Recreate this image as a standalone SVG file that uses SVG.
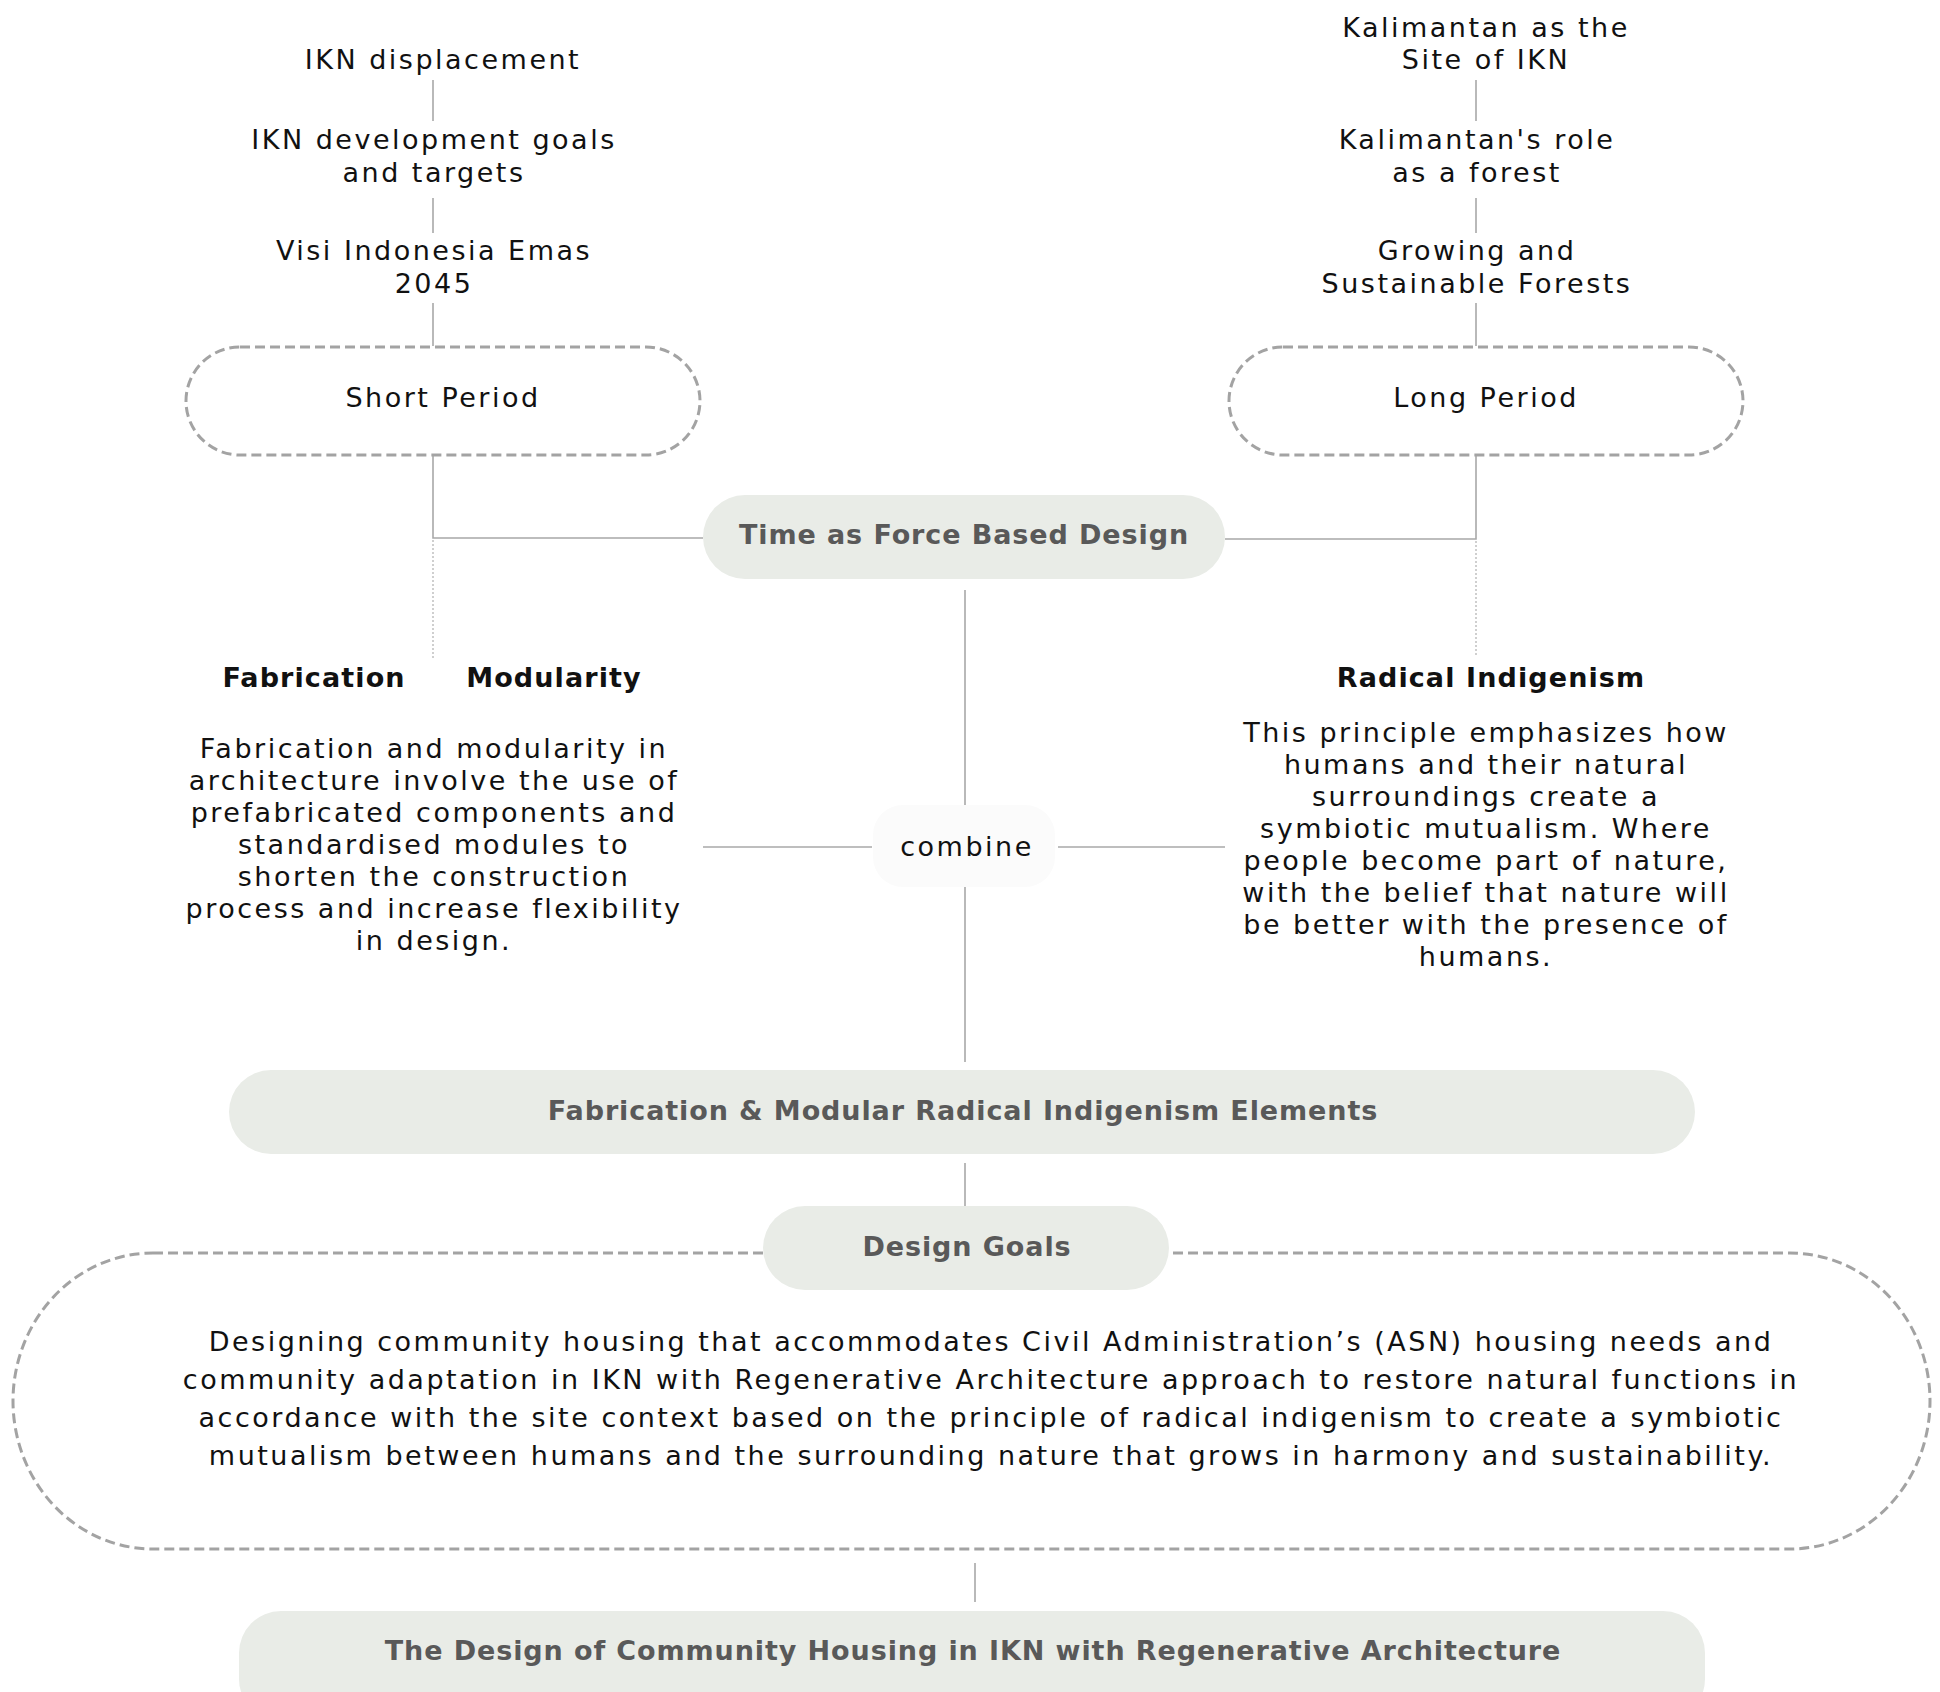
<svg xmlns="http://www.w3.org/2000/svg" width="1940" height="1692" viewBox="0 0 1940 1692">
<style>
.t{font-family:"DejaVu Sans","Open Sans",sans-serif;font-size:27px;letter-spacing:2.5px;fill:#111;text-anchor:middle}
.h{font-family:"DejaVu Sans","Open Sans",sans-serif;font-size:27px;font-weight:700;letter-spacing:1.1px;fill:#111;text-anchor:middle}
.b{font-family:"DejaVu Sans","Open Sans",sans-serif;font-size:27px;font-weight:700;letter-spacing:0.9px;fill:#595959;text-anchor:middle}
.pill{fill:#e9ece7}
.dash{fill:none;stroke:#a3a3a3;stroke-width:3;stroke-dasharray:10 5}
.ln{stroke:#a8a8a8;stroke-width:1.6;fill:none}
.dot{stroke:#bbbbbb;stroke-width:1.4;stroke-dasharray:2 2;fill:none}
</style>
<rect width="1940" height="1692" fill="#ffffff"/>
<g id="connectors">
<line class="ln" x1="433" y1="80" x2="433" y2="121"/>
<line class="ln" x1="433" y1="198" x2="433" y2="233"/>
<line class="ln" x1="433" y1="303" x2="433" y2="346"/>
<line class="ln" x1="1476" y1="80" x2="1476" y2="121"/>
<line class="ln" x1="1476" y1="198" x2="1476" y2="233"/>
<line class="ln" x1="1476" y1="303" x2="1476" y2="346"/>
<polyline class="ln" points="433,455 433,538 703,538"/>
<polyline class="ln" points="1476,455 1476,539 1225,539"/>
<line class="dot" x1="433" y1="540" x2="433" y2="658"/>
<line class="dot" x1="1476" y1="541" x2="1476" y2="656"/>
<line class="ln" x1="965" y1="590" x2="965" y2="810"/>
<line class="ln" x1="965" y1="885" x2="965" y2="1062"/>
<line class="ln" x1="703" y1="847" x2="872" y2="847"/>
<line class="ln" x1="1058" y1="847" x2="1225" y2="847"/>
<line class="ln" x1="965" y1="1163" x2="965" y2="1206"/>
<line class="ln" x1="975" y1="1563" x2="975" y2="1602"/>
</g>
<g id="ikn-displacement"><text class="t" x="443" y="69">IKN displacement</text></g>
<g id="ikn-goals"><text class="t" x="434" y="149">IKN development goals</text><text class="t" x="434" y="182">and targets</text></g>
<g id="visi"><text class="t" x="434" y="260">Visi Indonesia Emas</text><text class="t" x="434" y="293">2045</text></g>
<g id="kalimantan-site"><text class="t" x="1486" y="37">Kalimantan as the</text><text class="t" x="1486" y="69">Site of IKN</text></g>
<g id="kalimantan-role"><text class="t" x="1477" y="149">Kalimantan's role</text><text class="t" x="1477" y="182">as a forest</text></g>
<g id="growing"><text class="t" x="1477" y="260">Growing and</text><text class="t" x="1477" y="293">Sustainable Forests</text></g>
<g id="short-period"><rect class="dash" x="186" y="347" width="514" height="108" rx="54" ry="54"/><text class="t" x="443" y="407">Short Period</text></g>
<g id="long-period"><rect class="dash" x="1229" y="347" width="514" height="108" rx="54" ry="54"/><text class="t" x="1486" y="407">Long Period</text></g>
<g id="time-force"><rect class="pill" x="703" y="495" width="522" height="84" rx="42"/><text class="b" x="964" y="544">Time as Force Based Design</text></g>
<g id="fabrication"><text class="h" x="314" y="687">Fabrication</text></g>
<g id="modularity"><text class="h" x="554" y="687">Modularity</text></g>
<g id="radical"><text class="h" x="1491" y="687">Radical Indigenism</text></g>
<g id="fab-desc">
<text class="t" x="434" y="758">Fabrication and modularity in</text>
<text class="t" x="434" y="790">architecture involve the use of</text>
<text class="t" x="434" y="822">prefabricated components and</text>
<text class="t" x="434" y="854">standardised modules to</text>
<text class="t" x="434" y="886">shorten the construction</text>
<text class="t" x="434" y="918">process and increase flexibility</text>
<text class="t" x="434" y="950">in design.</text>
</g>
<g id="radical-desc">
<text class="t" x="1486" y="742">This principle emphasizes how</text>
<text class="t" x="1486" y="774">humans and their natural</text>
<text class="t" x="1486" y="806">surroundings create a</text>
<text class="t" x="1486" y="838">symbiotic mutualism. Where</text>
<text class="t" x="1486" y="870">people become part of nature,</text>
<text class="t" x="1486" y="902">with the belief that nature will</text>
<text class="t" x="1486" y="934">be better with the presence of</text>
<text class="t" x="1486" y="966">humans.</text>
</g>
<g id="combine"><rect x="873" y="805" width="182" height="82" rx="30" fill="#fbfbfb"/><text class="t" x="967" y="856">combine</text></g>
<g id="elements"><rect class="pill" x="229" y="1070" width="1466" height="84" rx="42"/><text class="b" x="963" y="1120">Fabrication &amp; Modular Radical Indigenism Elements</text></g>
<g id="design-goals-frame"><rect class="dash" x="13" y="1253" width="1917" height="296" rx="140" ry="148"/></g>
<g id="design-goals"><rect class="pill" x="763" y="1206" width="406" height="84" rx="42"/><text class="b" x="967" y="1256">Design Goals</text></g>
<g id="goals-desc">
<text class="t" x="991" y="1351">Designing community housing that accommodates Civil Administration’s (ASN) housing needs and</text>
<text class="t" x="991" y="1389">community adaptation in IKN with Regenerative Architecture approach to restore natural functions in</text>
<text class="t" x="991" y="1427">accordance with the site context based on the principle of radical indigenism to create a symbiotic</text>
<text class="t" x="991" y="1465">mutualism between humans and the surrounding nature that grows in harmony and sustainability.</text>
</g>
<g id="final"><rect class="pill" x="239" y="1611" width="1466" height="110" rx="42"/><text class="b" x="973" y="1660">The Design of Community Housing in IKN with Regenerative Architecture</text></g>
</svg>
